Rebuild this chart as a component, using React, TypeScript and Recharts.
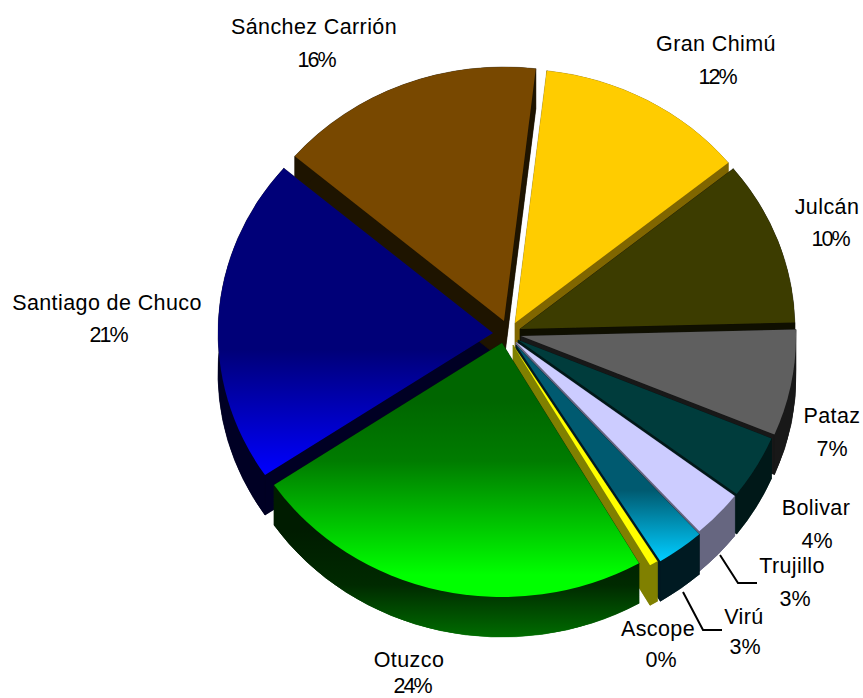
import React from "react";
import { PieChart, Pie } from "recharts";

// Data, clockwise from the back-left edge of Santiago de Chuco
const categories = ["Santiago de Chuco", "Sánchez Carrión", "Gran Chimú", "Julcán", "Pataz", "Bolivar", "Trujillo", "Virú", "Ascope", "Otuzco"];
const values = [20.55, 15.5, 12.2, 10.4, 6.7, 4.0, 3.0, 2.8, 0.49, 23.7];

// Styling
const topFills = ["url(#gSantiago)", "#784800", "#ffcc00", "#3c3c00", "#5f5f5f", "#003c3c", "#ccccff", "url(#gViru)", "#ffff00", "url(#gOtuzco)"];
const wallFills = ["#000024", "#1e1400", "#806600", "#0f0f00", "#181818", "#001818", "#666680", "#001a22", "#808000", "url(#gOtuzcoWall)"];
const explode: [number, number][] = [[-18, -2], [-7, -14], [4, -12], [9, -6], [10, 1], [7, 5], [5, 7], [5, 10], [2, 10], [-9, 8]];
const labelAnchors: [number, number, number, number][] = [
  [107, 310, 108, 342], [314, 34, 316, 67], [716, 51, 717, 84], [827, 214, 830, 246], [832, 423, 832, 456],
  [816, 515, 817, 548], [792, 573, 795, 606], [744, 624, 745, 654], [658, 636, 661, 667], [409, 667, 412, 693],
];
const leaders: Record<number, string> = {
  6: "M720 555 L738 583 L757 583",
  7: "M683 592 L703 630 L722 630",
};

const OFFSET_X = 12;
const W = 851, H = 698;
const CX = 511 - OFFSET_X, CY = 335;
const RX = 275, RY = 254, DEPTH = 40;
const SQUASH = RY / RX;
const total = values.reduce((a, b) => a + b, 0);
const rows = categories.map((name, i) => ({ name, value: values[i] }));

const geom = (p: any) => {
  const i = p.index as number;
  const [ex, ey] = explode[i];
  const ax = p.cx + ex, ay = p.cy + ey;
  const rx = p.outerRadius, ry = rx * SQUASH;
  const pt = (deg: number, dy = 0) => {
    const r = (deg * Math.PI) / 180;
    return `${(ax + rx * Math.cos(r)).toFixed(2)} ${(ay - ry * Math.sin(r) + dy).toFixed(2)}`;
  };
  const large = Math.abs(p.startAngle - p.endAngle) > 180 ? 1 : 0;
  return { i, ax, ay, rx, ry, pt, large, s: p.startAngle, e: p.endAngle };
};

const Top = (p: any) => {
  const { i, ax, ay, rx, ry, pt, large, s, e } = geom(p);
  return <path d={`M${ax} ${ay} L${pt(s)} A${rx} ${ry} 0 ${large} 1 ${pt(e)} Z`} fill={topFills[i]} stroke="none" />;
};

const Wall = (p: any) => {
  const { i, ax, ay, rx, ry, pt, large, s, e } = geom(p);
  const fill = wallFills[i];
  const d = DEPTH;
  return (
    <g fill={fill} stroke={fill} strokeWidth={0.4}>
      <path d={`M${ax} ${ay + d} L${pt(s, d)} A${rx} ${ry} 0 ${large} 1 ${pt(e, d)} Z`} />
      <path d={`M${ax} ${ay} L${pt(s)} L${pt(s, d)} L${ax} ${ay + d} Z`} />
      <path d={`M${ax} ${ay} L${pt(e)} L${pt(e, d)} L${ax} ${ay + d} Z`} />
      <path d={`M${pt(s)} A${rx} ${ry} 0 ${large} 1 ${pt(e)} L${pt(e, d)} A${rx} ${ry} 0 ${large} 0 ${pt(s, d)} Z`} />
    </g>
  );
};

const Label = (p: any) => {
  const i = p.index as number;
  const [x1, y1, x2, y2] = labelAnchors[i];
  const pct = Math.round((values[i] / total) * 100);
  return (
    <g>
      {leaders[i] && (
        <path d={leaders[i]} transform={`translate(${-OFFSET_X} 0)`} fill="none" stroke="#000" strokeWidth={2} />
      )}
      <text x={x1 - OFFSET_X} y={y1} textAnchor="middle" fontFamily="Liberation Sans" fontSize={21.5} letterSpacing={0.4} fill="#000">
        {categories[i]}
      </text>
      <text x={x2 - OFFSET_X} y={y2} textAnchor="middle" fontFamily="Liberation Sans" fontSize={21.5} letterSpacing={pct >= 10 ? -2 : 0} fill="#000">
        {pct}%
      </text>
    </g>
  );
};

export default function App() {
  const common = {
    data: rows,
    dataKey: "value",
    nameKey: "name",
    cx: CX,
    cy: CY,
    innerRadius: 0,
    outerRadius: RX,
    startAngle: 90 - 236,
    endAngle: 90 - 236 - 360,
    paddingAngle: 0,
    stroke: "none",
    isAnimationActive: false,
  };
  return (
    <div style={{ position: "absolute", left: OFFSET_X, top: 0, width: W, height: H, overflow: "hidden", background: "#fff" }}>
      <PieChart width={W} height={H} margin={{ top: 0, right: 0, bottom: 0, left: 0 }}>
        <defs>
          <linearGradient id="gOtuzco" gradientUnits="userSpaceOnUse" x1="0" y1="400" x2="0" y2="575">
            <stop offset="0" stopColor="#006600" />
            <stop offset="0.35" stopColor="#007c00" />
            <stop offset="1" stopColor="#00ff00" />
          </linearGradient>
          <linearGradient id="gOtuzcoWall" gradientUnits="userSpaceOnUse" x1="0" y1="530" x2="0" y2="640">
            <stop offset="0" stopColor="#001c00" />
            <stop offset="0.5" stopColor="#002a00" />
            <stop offset="1" stopColor="#007000" />
          </linearGradient>
          <linearGradient id="gSantiago" gradientUnits="userSpaceOnUse" x1="0" y1="350" x2="0" y2="475">
            <stop offset="0" stopColor="#000078" />
            <stop offset="1" stopColor="#0000ff" />
          </linearGradient>
          <linearGradient id="gViru" gradientUnits="userSpaceOnUse" x1="0" y1="490" x2="0" y2="560">
            <stop offset="0" stopColor="#005a70" />
            <stop offset="1" stopColor="#00ccff" />
          </linearGradient>
        </defs>
        <Pie {...common} shape={Wall} />
        <Pie {...common} shape={Top} label={Label} labelLine={false} />
      </PieChart>
    </div>
  );
}
